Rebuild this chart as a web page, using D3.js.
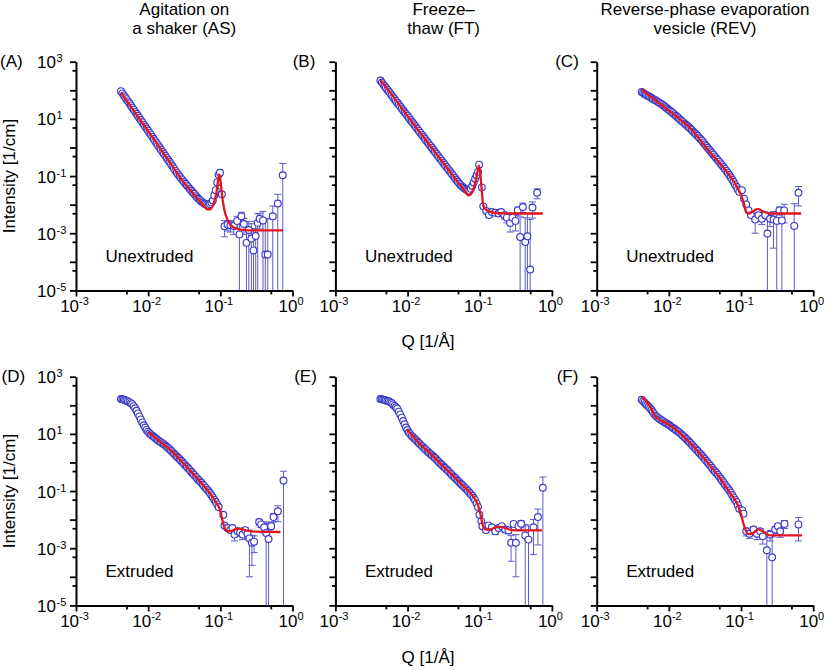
<!DOCTYPE html>
<html><head><meta charset="utf-8">
<script src="https://cdn.jsdelivr.net/npm/d3@7/dist/d3.min.js"></script>
<style>
body{margin:0;background:#fff}
svg{display:block}
text{font-family:"Liberation Sans",Arial,Helvetica,sans-serif;fill:#000}
</style>
</head><body>
<svg id="chart" width="827" height="670"></svg>
<script>
// ---------- DATA ----------
const colTitles = [["Agitation on","a shaker (AS)"],["Freeze\u2013","thaw (FT)"],["Reverse-phase evaporation","vesicle (REV)"]];
const panelLetters = ["(A)","(B)","(C)","(D)","(E)","(F)"];
const rowLabels = ["Unextruded","Extruded"];
const xTickExps = [-3,-2,-1,0];
const yTickExps = [3,1,-1,-3,-5];

// shared low-Q grids (dense region)
const qLow = [0.0042,0.0046,0.0050,0.0055,0.0060,0.0066,0.0072,0.0079,0.0087,0.0095,0.0104,0.0114,0.0125,0.0137,0.0150,0.0165,0.0181,0.0198,0.0217,0.0238,0.0261,0.0286,0.0314,0.0344,0.0377,0.0413,0.0453,0.0497,0.0545,0.0597,0.0655,0.0718,0.0787,0.0863,0.0946];
const qMid = [0.0044,0.0048,0.00525,0.00575,0.0063,0.0069,0.00755,0.0083,0.0091,0.00995,0.0109,0.01195,0.0131,0.01435,0.01575,0.0173,0.01895,0.02075,0.02275,0.02495,0.02735,0.03,0.0329,0.0361,0.0395,0.0433,0.0475,0.0521,0.0571,0.0626,0.0686,0.0752,0.0824,0.0904];

// (A) AS unextruded
const iLowA = [93,66,49,35,25,17.6,12.9,9.1,6.3,4.6,3.3,2.35,1.66,1.2,0.85,0.60,0.43,0.31,0.22,0.155,0.112,0.083,0.062,0.047,0.035,0.027,0.021,0.016,0.013,0.011,0.010,0.0105,0.014,0.032,0.11];
const iMidA = [78,57,41,29.6,21,15.1,10.8,7.6,5.4,3.9,2.8,1.97,1.41,1.01,0.71,0.51,0.365,0.26,0.185,0.132,0.096,0.072,0.054,0.041,0.031,0.024,0.018,0.0145,0.012,0.0104,0.0098,0.0118,0.021,0.06];
const qHighA = [0.099,0.105,0.114,0.126,0.138,0.153,0.171,0.184,0.196,0.212,0.23,0.248,0.269,0.288,0.309,0.33,0.35,0.39,0.42,0.454,0.533,0.625,0.733];
const iHighA = [0.13,0.023,0.00175,0.0020,0.0019,0.0018,0.0027,0.00091,0.0039,0.0021,0.00046,0.0013,0.00065,0.00025,0.0008,0.0023,0.0032,0.0028,0.00018,0.00018,0.0039,0.011,0.107];
const eHighA = [0,0,0.001,0.0008,0.0008,0.0009,0.0012,0.0012,0.0015,0.0012,0.0012,0.0013,0.0015,0.0012,0.0018,0.0025,0.0018,0.003,0.003,0.003,0.005,0.012,0.17];
const fitQA = [0.0042,0.006,0.01,0.015,0.02,0.03,0.04,0.05,0.06,0.066,0.072,0.08,0.088,0.093,0.097,0.101,0.106,0.113,0.124,0.14,0.16,0.2,0.3,0.74];
const fitIA = [85,23,3.7,0.85,0.30,0.068,0.028,0.0145,0.0088,0.0068,0.0068,0.0105,0.025,0.07,0.115,0.06,0.02,0.007,0.0032,0.0019,0.0015,0.00132,0.00126,0.00125];

// (B) FT unextruded
const iLowB = [219,161,123,90,67,49,37,27,19.7,14.8,11.0,8.1,6.0,4.4,3.3,2.4,1.76,1.31,0.97,0.71,0.52,0.39,0.286,0.21,0.157,0.116,0.085,0.063,0.048,0.039,0.033,0.031,0.045,0.08,0.14];
const iMidB = [188,141,105,78,57,42.5,31.6,23,17.1,12.8,9.4,7.0,5.1,3.8,2.8,2.05,1.52,1.13,0.83,0.61,0.45,0.334,0.245,0.182,0.135,0.099,0.073,0.055,0.043,0.036,0.032,0.036,0.06,0.106];
const qHighB = [0.098,0.107,0.112,0.123,0.134,0.147,0.163,0.182,0.198,0.219,0.238,0.264,0.284,0.313,0.337,0.363,0.396,0.427,0.458,0.5,0.538,0.625];
const iHighB = [0.25,0.04,0.0087,0.006,0.0043,0.0055,0.0052,0.0049,0.0055,0.0043,0.0035,0.0023,0.0035,0.0027,0.0063,0.00074,0.0083,0.00049,0.00078,0.000054,0.0079,0.026];
const eHighB = [0,0,0.0008,0.0008,0.0008,0.0009,0.0009,0.0009,0.001,0.0012,0.0012,0.0012,0.0013,0.0015,0.002,0.003,0.003,0.003,0.004,0.003,0.0045,0.01];
const fitQB = [0.0042,0.006,0.01,0.02,0.03,0.04,0.05,0.06,0.066,0.07,0.076,0.083,0.09,0.095,0.098,0.101,0.105,0.112,0.122,0.135,0.16,0.2,0.3,0.75];
const fitIB = [230,72,12.5,1.25,0.33,0.128,0.06,0.034,0.024,0.021,0.024,0.04,0.09,0.18,0.23,0.15,0.05,0.0095,0.0068,0.0058,0.0052,0.005,0.0049,0.0049];

// (C) REV unextruded
const iLowC = [87,74,66,58,50,44,38,33,27.5,22.9,19.1,15.8,12.9,10.5,8.5,6.9,5.6,4.6,3.6,2.9,2.24,1.74,1.29,0.98,0.74,0.56,0.42,0.32,0.24,0.178,0.129,0.091,0.063,0.042,0.028];
const iMidC = [80,70,62,54,47,41,35.4,30.1,25.1,20.9,17.4,14.3,11.6,9.4,7.7,6.2,5.1,4.1,3.2,2.55,1.97,1.5,1.12,0.85,0.64,0.485,0.367,0.277,0.207,0.152,0.108,0.076,0.051,0.034];
const qHighC = [0.1025,0.110,0.118,0.127,0.137,0.157,0.174,0.194,0.216,0.232,0.253,0.282,0.313,0.34,0.368,0.396,0.546,0.625];
const iHighC = [0.032,0.0162,0.0102,0.0063,0.0043,0.003,0.0043,0.0032,0.0043,0.00098,0.0032,0.003,0.0027,0.0063,0.0028,0.0063,0.0018,0.026];
const eHighC = [0,0,0,0.0008,0.0008,0.002,0.001,0.0012,0.0012,0.003,0.0015,0.0027,0.003,0.002,0.003,0.004,0.009,0.017];
const fitQC = [0.0042,0.006,0.01,0.015,0.02,0.03,0.04,0.05,0.06,0.07,0.08,0.0875,0.1,0.108,0.12,0.13,0.145,0.17,0.2,0.24,0.3,0.68];
const fitIC = [110,52,19.5,8.7,4.6,1.32,0.54,0.29,0.17,0.10,0.062,0.042,0.022,0.0126,0.0052,0.0049,0.0057,0.0071,0.0058,0.005,0.0049,0.0049];

// (D) AS extruded
const iLowD = [166,158,145,129,110,79,52,32,20,13.8,10.5,8.7,7.2,6.0,5.1,4.3,3.55,2.9,2.3,1.82,1.45,1.15,0.89,0.69,0.54,0.42,0.32,0.25,0.195,0.148,0.112,0.085,0.06,0.042,0.0275];
const iMidD = [162,151,137,119,93,64,41,25.3,16.6,12.0,9.6,7.9,6.6,5.5,4.7,3.9,3.2,2.58,2.05,1.62,1.29,1.01,0.78,0.61,0.476,0.367,0.283,0.221,0.17,0.129,0.098,0.071,0.05,0.034];
const qHighD = [0.11,0.114,0.125,0.137,0.147,0.157,0.173,0.188,0.203,0.221,0.238,0.253,0.274,0.294,0.345,0.368,0.405,0.432,0.466,0.507,0.546,0.627,0.75];
const iHighD = [0.0148,0.0062,0.0051,0.0043,0.0051,0.003,0.0039,0.0035,0.003,0.0043,0.0032,0.0022,0.00155,0.0017,0.0083,0.0068,0.0054,0.0034,0.0021,0.0059,0.0123,0.0195,0.234];
const eHighD = [0,0.0008,0.0008,0.0008,0.0008,0.0012,0.0008,0.0008,0.001,0.001,0.001,0.0021,0.0013,0.001,0.002,0.0015,0.002,0.005,0.005,0.002,0.004,0.011,0.26];
const fitQD = [0.01,0.015,0.02,0.03,0.04,0.05,0.06,0.07,0.08,0.09,0.1,0.105,0.112,0.12,0.135,0.155,0.178,0.22,0.3,0.68];
const fitID = [11.5,5.0,2.8,1.0,0.46,0.245,0.145,0.09,0.058,0.035,0.02,0.0115,0.006,0.0042,0.0039,0.0044,0.0049,0.0043,0.0038,0.0037];

// (E) FT extruded
const iLowE = [166,158,148,138,120,95,76,48,28,16.6,11.2,8.5,6.8,5.4,4.3,3.4,2.7,2.2,1.78,1.45,1.15,0.91,0.72,0.58,0.46,0.36,0.29,0.23,0.18,0.145,0.115,0.089,0.068,0.048,0.028];
const iMidE = [162,153,143,129,107,85,60,37,21.6,13.6,9.8,7.6,6.1,4.8,3.8,3.0,2.44,1.98,1.61,1.29,1.02,0.81,0.65,0.52,0.41,0.323,0.258,0.203,0.162,0.129,0.101,0.078,0.057,0.037];
const qHighE = [0.099,0.105,0.109,0.122,0.132,0.147,0.164,0.182,0.202,0.225,0.25,0.272,0.294,0.317,0.344,0.375,0.427,0.474,0.556,0.64,0.75];
const iHighE = [0.0148,0.0087,0.0059,0.0043,0.0063,0.0054,0.0039,0.0051,0.0059,0.0045,0.0042,0.00155,0.0071,0.00155,0.0059,0.0072,0.0028,0.002,0.0054,0.0123,0.13];
const eHighE = [0,0,0.0008,0.0008,0.0008,0.0008,0.0008,0.0008,0.0008,0.001,0.001,0.0012,0.0015,0.00145,0.0015,0.002,0.004,0.004,0.0048,0.011,0.18];
const fitQE = [0.0098,0.015,0.02,0.03,0.04,0.05,0.06,0.07,0.08,0.09,0.1,0.11,0.12,0.14,0.16,0.19,0.26,0.35,0.73];
const fitIE = [14.5,4.3,2.2,0.81,0.4,0.23,0.145,0.1,0.068,0.043,0.02,0.0065,0.0045,0.0046,0.0052,0.0056,0.0045,0.0042,0.0042];

// (F) REV extruded
const iLowF = [155,126,100,79,58,42,35.5,30,25.7,22.4,19.1,16.2,13.8,11.7,9.5,7.6,6.0,4.8,3.7,2.9,2.24,1.74,1.32,1.0,0.76,0.56,0.43,0.32,0.234,0.17,0.126,0.089,0.06,0.042,0.024];
const iMidF = [140,112,89,68,49,38.6,32.6,27.8,24,20.7,17.6,15,12.7,10.5,8.5,6.75,5.4,4.2,3.3,2.55,1.97,1.52,1.15,0.87,0.65,0.49,0.37,0.274,0.2,0.146,0.106,0.073,0.05,0.032];
const qHighF = [0.104,0.108,0.118,0.131,0.149,0.166,0.184,0.2,0.228,0.253,0.27,0.297,0.324,0.349,0.4,0.625];
const iHighF = [0.021,0.0162,0.0039,0.0032,0.0045,0.0032,0.0039,0.0026,0.00085,0.003,0.00048,0.0045,0.0059,0.0039,0.0071,0.0068];
const eHighF = [0,0,0.0012,0.001,0.0012,0.0012,0.001,0.0012,0.002,0.0012,0.002,0.0012,0.0012,0.0015,0.0022,0.005];
const fitQF = [0.0042,0.0055,0.0064,0.0075,0.0093,0.0143,0.0219,0.0336,0.0513,0.0706,0.0875,0.0973,0.11,0.127,0.145,0.174,0.21,0.253,0.7];
const fitIF = [200,90,43,31,23.4,10.7,3.6,1.07,0.28,0.085,0.038,0.0195,0.0062,0.0031,0.0033,0.0046,0.0036,0.0028,0.0028];

// ---------- BUILD ----------
const sets = [
  [iLowA,iMidA,qHighA,iHighA,eHighA,fitQA,fitIA],
  [iLowB,iMidB,qHighB,iHighB,eHighB,fitQB,fitIB],
  [iLowC,iMidC,qHighC,iHighC,eHighC,fitQC,fitIC],
  [iLowD,iMidD,qHighD,iHighD,eHighD,fitQD,fitID],
  [iLowE,iMidE,qHighE,iHighE,eHighE,fitQE,fitIE],
  [iLowF,iMidF,qHighF,iHighF,eHighF,fitQF,fitIF]
];
const colX = [76, 335.4, 596.7];
const rowY = [61.7, 376.7];
const PW = 216.5, PH = 228.7;
const letterDX = [-76, -42.7, -41.5];

const svg = d3.select("#chart");
const DATA_C = "#3a3ac6", ERR_C = "#5a5ad2", FIT_C = "#e3151d";

sets.forEach((s, k) => {
  const col = k % 3, row = Math.floor(k / 3);
  const x0 = colX[col], y0 = rowY[row];
  const x = d3.scaleLog().domain([1e-3, 1]).range([x0, x0 + PW]);
  const y = d3.scaleLog().domain([1e-5, 1e3]).range([y0 + PH, y0]);
  const g = svg.append("g");

  const pts = qLow.map((q, j) => ({q, i: s[0][j], e: 0}))
    .concat(qMid.map((q, j) => ({q, i: s[1][j], e: 0})))
    .concat(s[2].map((q, j) => ({q, i: s[3][j], e: s[4][j]})))
    .sort((a, b) => a.q - b.q);
  const fit = s[5].map((q, j) => ({q, i: s[6][j]}));

  // axes
  const yMaj = d3.range(-5, 4).map(e => Math.pow(10, e));
  const yMin = d3.range(-5, 3).map(e => 5 * Math.pow(10, e));
  const xMaj = d3.range(-3, 1).map(e => Math.pow(10, e));
  const xMin = d3.range(-3, 0).map(e => 5 * Math.pow(10, e));

  const ax = g.append("g").attr("class", "axes");
  ax.append("g").attr("transform", `translate(${x0},0)`)
    .call(d3.axisLeft(y).tickValues(yMaj).tickSize(6).tickSizeOuter(0).tickFormat(""));
  ax.append("g").attr("transform", `translate(${x0},0)`)
    .call(d3.axisLeft(y).tickValues(yMin).tickSize(3.5).tickSizeOuter(0).tickFormat(""))
    .select(".domain").remove();
  ax.append("g").attr("transform", `translate(0,${y0 + PH})`)
    .call(d3.axisBottom(x).tickValues(xMaj).tickSize(6).tickSizeOuter(0).tickFormat(""));
  ax.append("g").attr("transform", `translate(0,${y0 + PH})`)
    .call(d3.axisBottom(x).tickValues(xMin).tickSize(4).tickSizeOuter(0).tickFormat(""))
    .select(".domain").remove();
  ax.selectAll(".domain").attr("stroke", "#000").attr("stroke-width", 2);
  ax.selectAll(".tick line").attr("stroke", "#000").attr("stroke-width", 1.8);

  // x tick labels
  xTickExps.forEach(e => {
    const tx = x(Math.pow(10, e));
    const t = g.append("text").attr("y", y0 + PH + 21.5).attr("font-size", 17)
      .attr("text-anchor", "middle").attr("x", tx - 1.5);
    t.append("tspan").text("10");
    t.append("tspan").attr("dy", -6.5).attr("font-size", 11).text(String(e));
  });
  // y tick labels (first column only)
  if (col === 0) {
    yTickExps.forEach(e => {
      const ty = y(Math.pow(10, e));
      g.append("text").attr("x", x0 - 20).attr("y", ty + 6.6).attr("font-size", 17)
        .attr("text-anchor", "end").text("10");
      g.append("text").attr("x", x0 - 19.5).attr("y", ty + 0.5).attr("font-size", 11)
        .attr("text-anchor", "start").text(String(e));
    });
  }

  // error bars
  const eb = g.append("g").attr("stroke", ERR_C).attr("stroke-width", 1).attr("fill", "none");
  pts.filter(d => d.e > 0).forEach(d => {
    const px = x(d.q);
    const lo = d.i - d.e;
    const yl = lo > 1e-5 ? y(lo) : y(1e-5);
    const yh = y(d.i + d.e);
    eb.append("line").attr("x1", px).attr("x2", px).attr("y1", yl).attr("y2", yh);
    eb.append("line").attr("x1", px - 3.5).attr("x2", px + 3.5).attr("y1", yh).attr("y2", yh);
    if (lo > 1e-5) eb.append("line").attr("x1", px - 3.5).attr("x2", px + 3.5).attr("y1", yl).attr("y2", yl);
  });

  // data circles
  g.append("g").selectAll("circle").data(pts).join("circle")
    .attr("cx", d => x(d.q)).attr("cy", d => y(d.i)).attr("r", 3.4)
    .attr("fill", "#fff").attr("stroke", DATA_C).attr("stroke-width", 1.15);

  // fit line
  g.append("path").datum(fit)
    .attr("d", d3.line().x(d => x(d.q)).y(d => y(d.i)).curve(d3.curveMonotoneX))
    .attr("fill", "none").attr("stroke", FIT_C).attr("stroke-width", 2.3)
    .attr("stroke-linejoin", "round");

  // panel letter
  svg.append("text").attr("x", x0 + letterDX[col] + (row === 1 ? 1.5 : 0)).attr("y", y0 + 5)
    .attr("font-size", 17).text(panelLetters[k]);
  // row label
  svg.append("text").attr("x", x0 + 29.5).attr("y", y0 + 200)
    .attr("font-size", 17).text(rowLabels[row]);
});

// column titles
colTitles.forEach((lines, c) => {
  const cx = colX[c] + PW / 2;
  lines.forEach((t, j) => {
    svg.append("text").attr("x", cx).attr("y", 14.5 + j * 19.5)
      .attr("text-anchor", "middle").attr("font-size", 17).text(t);
  });
});

// axis titles
[0, 1].forEach(r => {
  const cy = rowY[r] + PH / 2;
  svg.append("text").attr("transform", `translate(14.5,${cy}) rotate(-90)`)
    .attr("text-anchor", "middle").attr("font-size", 17).text("Intensity [1/cm]");
  svg.append("text").attr("x", 428).attr("y", r === 0 ? 347 : 663)
    .attr("text-anchor", "middle").attr("font-size", 17).text("Q [1/\u00C5]");
});
</script>
</body></html>
